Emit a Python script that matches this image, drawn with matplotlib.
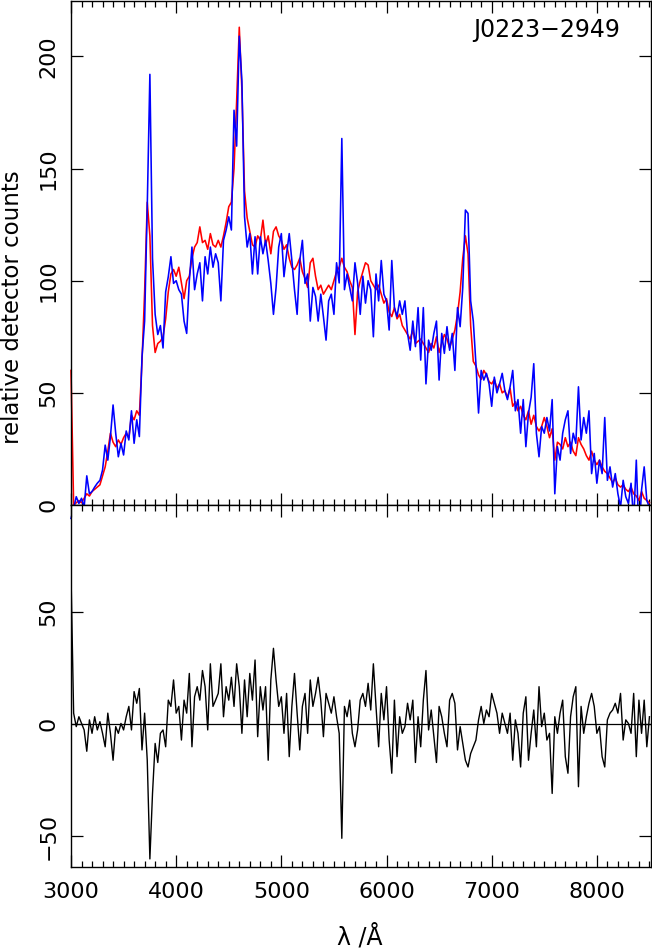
import numpy as np
import matplotlib
matplotlib.use("Agg")
import matplotlib.pyplot as plt
from matplotlib.ticker import MultipleLocator

# wavelength grid (Angstrom), 25 A steps
wave = np.arange(3000, 8501, 25)

# observed spectrum (blue)
observed = [
    -6, -1.5, 3.7, 0.7, 3, -1, 13, 5, 6, 8,
    9.7, 11, 15.6, 26.7, 20, 30.5, 44.6, 32, 21.5, 27.5,
    22.3, 33, 29, 42, 27.5, 38, 30.5, 66, 82, 133,
    192, 110, 85, 76, 80, 70, 95, 101.8, 110.7, 98.8,
    100, 96, 94, 82, 76.5, 100, 115, 96, 103, 108,
    91, 110.7, 103, 115, 106, 112, 108, 91, 118, 122.6,
    128.5, 122.6, 176, 160, 209, 189, 128.5, 115, 121, 103,
    119.6, 103, 119.6, 112, 118, 109, 98.8, 85, 97, 115,
    121, 101.8, 112, 121, 109, 96, 85, 109, 118, 98.8,
    103, 82, 97, 93, 82, 94, 84, 73.5, 91, 94,
    85, 108, 99, 163.4, 96, 103, 97, 91, 108, 99,
    85, 102, 90, 100, 96, 75, 103, 91, 109, 94,
    91, 78, 109, 88, 84, 91, 85, 91, 76.5, 69,
    82, 70.6, 88, 64.6, 88, 54, 73.5, 69, 76.5, 82,
    55.7, 76.5, 67.6, 79.5, 69, 76.5, 60, 88, 79.5, 97,
    131.5, 130, 91, 82, 63, 41, 60, 55.7, 58.7, 54,
    44, 57, 50, 54, 58.7, 51, 47, 52.7, 60, 42,
    47, 32, 47, 26, 41, 48, 63, 32, 21.5, 35,
    32, 39, 33, 47, 5, 26, 20, 32, 38, 42,
    23, 32, 27.5, 52.7, 29, 39, 32, 42, 14, 23,
    9.7, 20, 14, 39, 11, 17, 8, 14, 5, -1,
    11, 3.7, 0.7, 9.7, -7, 20, -14, 6.7, 17, 2,
    -1,
]

# model spectrum (red)
model = [
    60, 0, 1, 2, 1, 3, 5, 4, 6, 7,
    8, 9, 13, 17, 24, 32, 28, 26, 29, 27,
    30, 32, 30, 40, 38, 42, 40, 64, 95, 135,
    120, 80, 68, 72, 73, 75, 83, 95, 103, 105,
    102, 106, 99, 92, 100, 102, 110, 115, 117, 124,
    117, 118, 114, 121, 116, 115, 118, 115, 120, 126,
    133, 135, 150, 180, 213, 185, 140, 128, 122, 116,
    115, 120, 118, 127, 116, 120, 112, 122, 124, 120,
    118, 114, 116, 110, 106, 105, 107, 110, 104, 101,
    97, 108, 110, 102, 96, 98, 94, 96, 98, 96,
    100, 104, 106, 110, 106, 104, 100, 97, 76, 95,
    100, 104, 108, 107, 100, 98, 96, 98, 94, 90,
    92, 86, 84, 88, 83, 85, 80, 78, 76, 74,
    78, 72, 73, 74, 72, 70, 68, 72, 70, 75,
    68, 72, 76, 74, 70, 74, 78, 85, 95, 110,
    120, 112, 80, 64, 62, 58, 56, 60, 58, 55,
    54, 56, 52, 54, 50, 51, 48, 52, 44, 46,
    42, 44, 40, 38, 42, 36, 40, 35, 33, 35,
    39, 35, 30, 34, 20, 28, 27, 25, 30, 26,
    28, 24, 22, 30, 27, 25, 22, 20, 24, 20,
    18, 20, 17, 15, 14, 12, 10, 12, 9, 8,
    9, 7, 6, 8, 5, 4, 2, 6, 3, 2,
    1,
]

# model minus observed (black)
residual = [
    67, 5, -1, 3.4, 0.4, -2.5, -12, 2, -4, 3.4,
    -2.5, 1.2, -4, -10, 5, -4, -16, -1, -4, 0.4,
    -2.5, 3.4, 8, -2.5, 14.6, 9.4, 16, -11.4, 5, -16,
    -60, -30.8, -8.5, -17, -4, -2.5, -10, 10.8, 8, 19.8,
    5, 8, -7, 10.8, 5, 22.7, -10, 12.3, 16.8, 10.8,
    24, 16.8, -2.5, 27, 8, 10.8, 13.8, 27, 3.4, 16.8,
    10.8, 21, 8, 27, 16.8, -4, 19.8, 3.4, 22.7, 10.8,
    28.7, -5.5, 16.8, 6.4, 16.8, -16, 19.8, 33.9, 19.8, 8,
    12.3, -4, 13.8, -14.4, 8, 22.7, 5, -11.4, 8, 13.8,
    -4, 19.8, 8, 13.8, 21, 10.8, -5.5, 13.8, 9.4, 5,
    12.3, 3.4, -4, -50.8, 8, 3.4, 10.8, -4, -10, -2.5,
    10.8, 13.8, 8, 18.3, 6.4, 27, 8, -10, 13.8, 2,
    16.8, -7, -21.8, 10.8, -14.4, 3.4, -4, -1, 9.4, 2,
    10.8, -17, 3.4, -10, 10.8, 24, -2.5, 6.4, -5.5, -17,
    8, 3.4, -4, -10, 10.8, 13.8, 9.4, -11.4, -1, -8.5,
    -16, -19, -13, -10, -7, 2, 8, 0.4, 6.4, 3.4,
    13.8, 9.4, 5, -4, 5, 0.4, -4, 5, -16, 2,
    -4, -19, 5, 12.3, -16, -4, 6.4, -10, 16.8, -1,
    5, -7, -4, -30.8, 3.4, -4, 5, 10.8, -14.4, -21.8,
    3.4, 12.3, 16.8, -27.8, 8, -4, 3.4, 9.4, 13.8, 8,
    -4, -1, -14.4, -19, 2, 5, 6.4, 9.4, 5, 13.8,
    -7, 2, 0.4, -4, 13.8, -14.4, 10.8, -4, 10.8, -10,
    3.4,
]

plt.rcParams["font.family"] = ["DejaVu Sans"]

fig = plt.figure(figsize=(6.52, 9.52), dpi=100)
left = 71 / 652
width = 579.5 / 652
ax_top = fig.add_axes([left, 1 - 505 / 952, width, 504 / 952])
ax_bot = fig.add_axes([left, 1 - 867 / 952, width, 362 / 952])

ax_top.plot(wave, model, color="red", lw=1.15, clip_on=False)
ax_top.plot(wave, observed, color="blue", lw=1.15, clip_on=False)
ax_top.set_ylim(0, 224.7)

ax_bot.plot(wave, residual, color="black", lw=1.0)
ax_bot.axhline(0, color="black", lw=0.9)
ax_bot.set_ylim(-63.6, 97.8)

for ax in (ax_top, ax_bot):
    ax.set_xlim(3000, 8510)
    ax.xaxis.set_major_locator(MultipleLocator(1000))
    ax.xaxis.set_minor_locator(MultipleLocator(100))
    ax.yaxis.set_major_locator(MultipleLocator(50))
    ax.tick_params(which="both", direction="in", top=True, right=True,
                   labelsize=16, width=0.9)
    ax.tick_params(which="major", length=8.5)
    ax.tick_params(which="minor", length=4.5)
    ax.tick_params(axis="y", labelrotation=90, pad=9)
    for spine in ax.spines.values():
        spine.set_linewidth(1.0)
    plt.setp(ax.get_yticklabels(), va="center")

ax_top.tick_params(labelbottom=False)
ax_bot.tick_params(axis="x", pad=11)

fig.text(620 / 652, 1 - 30.5 / 952, "J0223\u22122949",
         ha="right", va="center", fontsize=17)
fig.text(13 / 652, 1 - 307 / 952, "relative detector counts",
         rotation=90, ha="center", va="center", fontsize=16.5)
fig.text(360 / 652, 1 - 937 / 952, "λ /Å",
         ha="center", va="center", fontsize=17)

fig.savefig("out.png", dpi=100)
